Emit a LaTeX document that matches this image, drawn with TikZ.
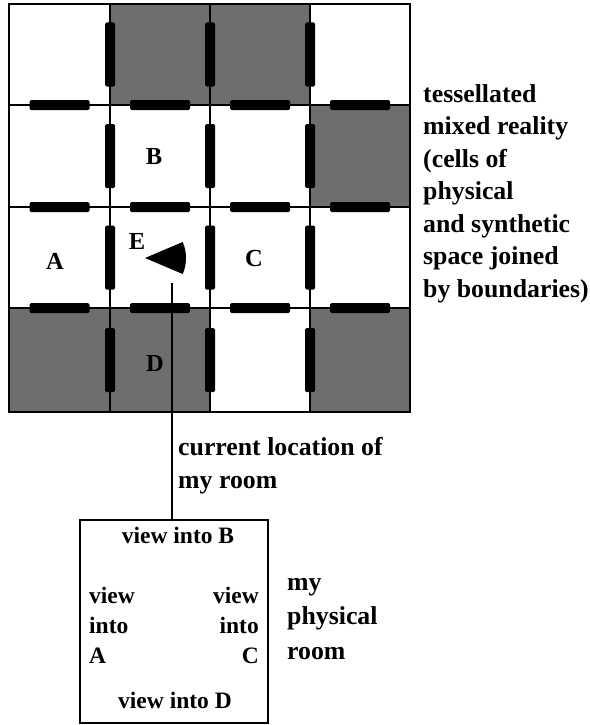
\documentclass[tikz,border=0pt]{standalone}
\usepackage{fontspec}
\setmainfont{Liberation Serif}
\definecolor{cellgray}{gray}{0.43}
\begin{document}
\begin{tikzpicture}[x=1pt,y=-1pt,
  gridline/.style={line width=1.4pt,black},
  barv/.style={fill=black,rounded corners=1.5pt},
  lbl/.style={font=\fontsize{24.5}{24.5}\selectfont\bfseries,inner sep=0pt},
  txt/.style={font=\fontsize{25.8}{25.8}\selectfont\bfseries,inner sep=0pt,anchor=base west},
  boxtxt/.style={font=\fontsize{23.5}{23.5}\selectfont\bfseries,inner sep=0pt},
  roombox/.style={draw,line width=2.4pt,minimum width=188pt,minimum height=203pt,inner sep=0pt}]
\useasboundingbox (0,0) rectangle (589,725);
% shaded cells
\fill[cellgray] (110,4) rectangle (310,105);
\fill[cellgray] (310,105) rectangle (410,207);
\fill[cellgray] (9,308) rectangle (210,412);
\fill[cellgray] (310,308) rectangle (410,412);
% grid lines
\foreach \x in {110,210,310} \draw[gridline] (\x,4) -- (\x,412);
\foreach \y in {105,207,308} \draw[gridline] (9,\y) -- (410,\y);
\draw[line width=2pt] (9,4) rectangle (410,412);
% boundaries (thick bars)
\foreach \x in {110,210,310}
  \foreach \ya/\yb in {4/105,105/207,207/308,308/412}
    \fill[barv] (\x-5,{(\ya+\yb)/2-32}) rectangle (\x+5,{(\ya+\yb)/2+32});
\foreach \y in {105,207,308}
  \foreach \xa/\xb in {9/110,110/210,210/310,310/410}
    \fill[barv] ({(\xa+\xb)/2-30},\y-5) rectangle ({(\xa+\xb)/2+30},\y+5);
% cell labels
\node[lbl] (A) at (55,261) {A};
\node[lbl] (B) at (154,157) {B};
\node[lbl] (C) at (254,259) {C};
\node[lbl] (D) at (155,363) {D};
\node[lbl] (E) at (137,241) {E};
% my room position wedge
\fill (145,258) -- ++(-23:41) arc[start angle=-23,end angle=23,radius=41] -- cycle;
\coordinate (me) at (172,283);
% room box
\node[roombox] (room) at (174,621.5) {};
\draw[line width=2pt] (me) -- (me |- room.north);
\node[boxtxt,anchor=base] (vb) at (178,543) {view into B};
\node[boxtxt,anchor=base] (vd) at (175,708) {view into D};
\foreach \t [count=\i] in {view,into,A}
  \node[boxtxt,anchor=base west] (va\i) at (89,{603+30*(\i-1)}) {\t};
\foreach \t [count=\i] in {view,into,C}
  \node[boxtxt,anchor=base east] (vc\i) at (259,{603+30*(\i-1)}) {\t};
% side texts
\foreach \t [count=\i] in {{tessellated},{mixed reality},{(cells of},{physical},{and synthetic},{space joined},{by boundaries)}}
  \node[txt] (t\i) at (423,{102+32.5*(\i-1)}) {\t};
\node[txt] (cur1) at (178,455) {current location of};
\node[txt] (cur2) at (178,488) {my room};
\foreach \t [count=\i] in {my,physical,room}
  \node[txt] (p\i) at (287,{590+34.5*(\i-1)}) {\t};
\end{tikzpicture}
\end{document}
